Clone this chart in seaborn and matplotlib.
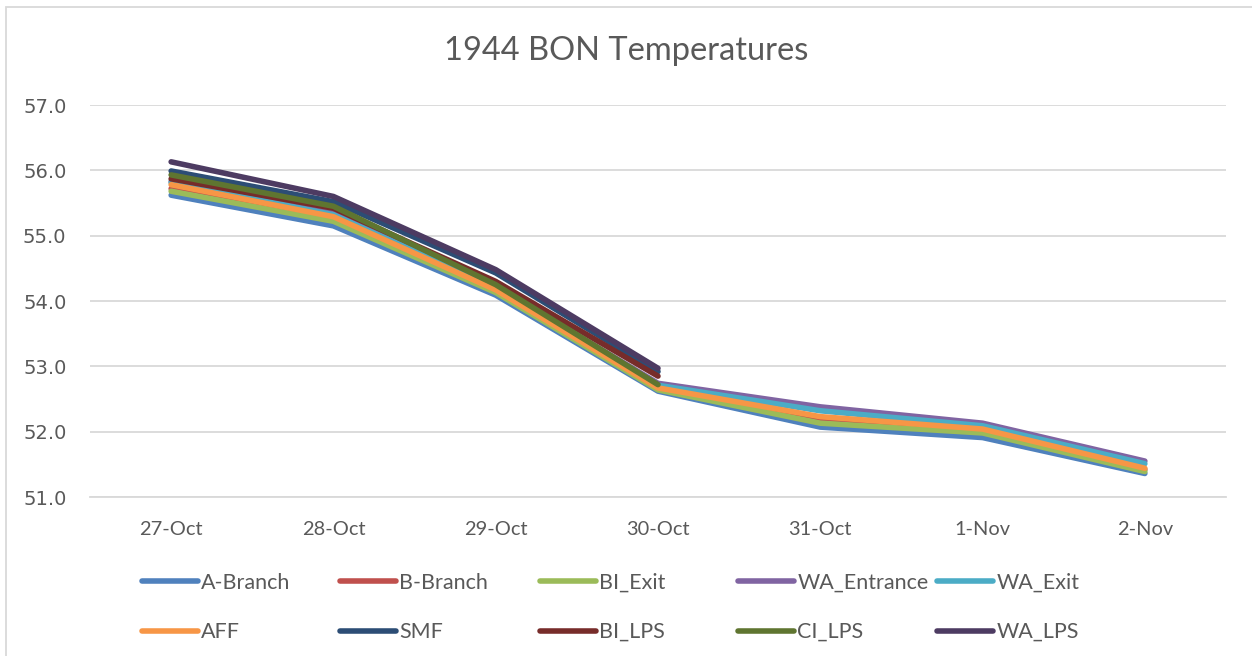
import numpy as np
import pandas as pd
import seaborn as sns
import matplotlib.pyplot as plt
from matplotlib.patches import Rectangle

# dates on the category axis
dates = ["27-Oct", "28-Oct", "29-Oct", "30-Oct", "31-Oct", "1-Nov", "2-Nov"]

# temperatures (deg F); LPS/SMF stop at 30-Oct
a_branch = [55.62, 55.15, 54.09, 52.62, 52.07, 51.91, 51.36]
b_branch = [55.72, 55.24, 54.14, 52.66, 52.18, 52.01, 51.42]
bi_exit = [55.68, 55.22, 54.13, 52.64, 52.13, 51.98, 51.39]
wa_entrance = [55.83, 55.35, 54.22, 52.74, 52.38, 52.13, 51.55]
wa_exit = [55.81, 55.32, 54.20, 52.71, 52.32, 52.09, 51.51]
aff = [55.78, 55.29, 54.17, 52.67, 52.23, 52.04, 51.44]
smf = [55.99, 55.52, 54.43, 52.92, np.nan, np.nan, np.nan]
bi_lps = [55.87, 55.42, 54.30, 52.85, np.nan, np.nan, np.nan]
ci_lps = [55.93, 55.45, 54.25, 52.72, np.nan, np.nan, np.nan]
wa_lps = [56.13, 55.60, 54.48, 52.97, np.nan, np.nan, np.nan]

series = {
    "A-Branch": a_branch,
    "B-Branch": b_branch,
    "BI_Exit": bi_exit,
    "WA_Entrance": wa_entrance,
    "WA_Exit": wa_exit,
    "AFF": aff,
    "SMF": smf,
    "BI_LPS": bi_lps,
    "CI_LPS": ci_lps,
    "WA_LPS": wa_lps,
}
colors = ["#4F81BD", "#C0504D", "#9BBB59", "#8064A2", "#4BACC6",
          "#F79646", "#2C4D75", "#772C2A", "#5F7530", "#4D3B62"]

rows = []
for name, vals in series.items():
    for i, v in enumerate(vals):
        rows.append({"pos": i, "series": name, "temp": v})
df = pd.DataFrame(rows)

sns.set_style("white")
plt.rcParams['font.family'] = ['Lato', 'DejaVu Sans']

fig = plt.figure(figsize=(12.52, 6.56), dpi=100)
ax = fig.add_axes([90 / 1252, 1 - 497 / 656, (1226 - 90) / 1252, (497 - 105) / 656])

sns.lineplot(data=df, x="pos", y="temp", hue="series", hue_order=list(series),
             palette=colors, linewidth=4, ax=ax, legend=False, sort=False)
for ln in ax.get_lines():
    ln.set_solid_capstyle("round")
    ln.set_solid_joinstyle("round")

ax.set_xlim(-0.5, len(dates) - 0.5)
ax.set_ylim(51, 57)
ax.set_yticks(np.arange(51, 57.01, 1))
ax.set_yticklabels([f"{v:.1f}" for v in np.arange(51, 57.01, 1)],
                   family="DejaVu Sans", fontsize=14, color="#595959")
ax.set_xticks(range(len(dates)))
ax.set_xticklabels(dates, fontsize=14.4, color="#595959")
ax.set_xticks(np.arange(-0.5, len(dates), 1), minor=True)
ax.tick_params(axis="x", which="major", length=0, pad=17)
ax.tick_params(axis="x", which="minor", length=7, width=1.3, color="#D9D9D9")
ax.tick_params(axis="y", length=0, pad=17)
ax.grid(axis="y", color="#D9D9D9", linewidth=1.3)
ax.set_axisbelow(True)
for s in ["top", "right", "left"]:
    ax.spines[s].set_visible(False)
ax.spines["bottom"].set_color("#D9D9D9")
ax.spines["bottom"].set_linewidth(1.3)
ax.set_xlabel("")
ax.set_ylabel("")

fig.text(0.5, 1 - 51 / 656, "1944 BON Temperatures", ha="center", va="center",
         fontsize=23.5, color="#595959")

# legend: Excel lays out fixed-width columns, so one small legend per column
names = list(series)
col_x = [142, 340, 540, 738, 937]
for j, x in enumerate(col_x):
    idx = [j, j + 5]
    hs = [plt.Line2D([], [], color=colors[k], linewidth=4, solid_capstyle="round") for k in idx]
    leg = fig.legend(hs, [names[k] for k in idx], loc="upper left", frameon=False,
                     bbox_to_anchor=(x / 1252, 1 - 573 / 656), borderpad=0, borderaxespad=0,
                     handlelength=2.6, handletextpad=0.15, labelspacing=1.35,
                     prop={"size": 15.5}, labelcolor="#595959")

fig.patches.append(Rectangle((6 / 1252, -0.1), 1.2, 1.1 - 7 / 656, transform=fig.transFigure,
                             fill=False, edgecolor="#D9D9D9", linewidth=1.3))

fig.savefig("out.png", dpi=100)
